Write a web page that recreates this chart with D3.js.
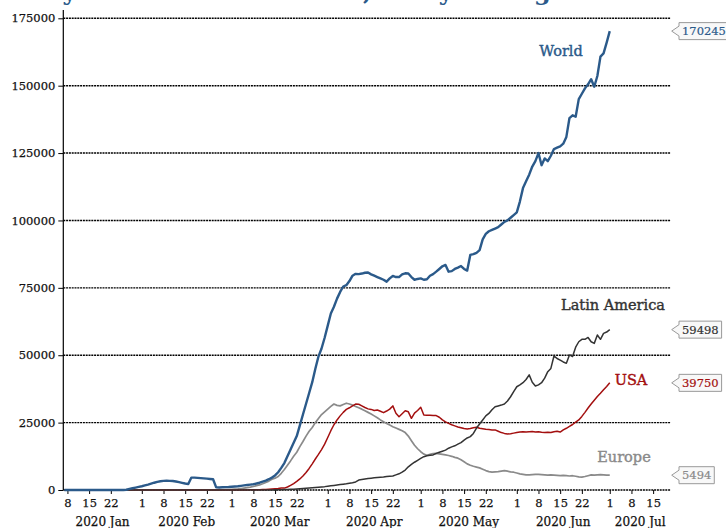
<!DOCTYPE html>
<html><head><meta charset="utf-8">
<script src="https://cdn.jsdelivr.net/npm/d3@7"></script>
<style>
body{margin:0;background:#fff;}
svg{display:block;font-family:"DejaVu Serif",serif;}
</style></head>
<body><svg id="c" width="726" height="528"></svg>
<script>
const startDate = "2020-01-07";
const seriesNames = ["World","Latin America","USA","Europe"];
const seriesColors = ["#2b5a8a","#333333","#a30f0f","#8a8a8a"];
const endLabels = ["170245","59498","39750","5494"];
const yTicks = [0,25000,50000,75000,100000,125000,150000,175000];
const monthLabels = ["2020 Jan","2020 Feb","2020 Mar","2020 Apr","2020 May","2020 Jun","2020 Jul"];
const titleText = "Daily new confirmed cases, 7-day average";

const worldValues = [
 0,0,0,0,0,0,0,0,0,0,0,0,0,0,0,0,0,0,0,0,100,400,650,900,1150,
 1400,1700,2000,2350,2700,3000,3250,3400,3450,3400,3350,3150,2900,2650,2400,2200,4600,4600,4500,4400,4300,4200,4100,4000,1000,950,1000,1050,1100,
 1200,1300,1400,1550,1700,1850,2000,2150,2400,2700,3100,3500,4000,4600,5400,6600,8200,10000,12500,15000,17500,20000,24000,28000,32000,36000,40000,45000,49500,52500,56500,
 61000,65500,68000,71000,73500,75500,76000,77500,79500,80200,80100,80300,80600,80700,80000,79500,79000,78500,78000,77300,78500,79400,79000,79000,80000,80400,80300,79000,78000,78300,
 78500,78000,78200,79500,80100,81000,82000,83000,83500,81000,81200,82000,82500,83100,82000,81400,87200,87500,88000,89000,93000,95000,96000,96500,97000,97500,98500,99500,100000,101000,102000,
 103000,107000,112000,114500,117000,120000,122000,125000,120500,123000,122000,124000,126500,127000,127500,128500,131000,138000,139000,138500,145000,147000,149000,150500,152400,149600,153600,160800,162000,166000,
 170245];

const latamValues = [
 0,0,0,0,0,0,0,0,0,0,0,0,0,0,0,0,0,0,0,0,0,0,0,0,0,
 0,0,0,0,0,0,0,0,0,0,0,0,0,0,0,0,0,0,0,0,0,0,0,0,0,0,0,0,0,
 0,0,0,0,0,0,0,0,0,0,0,0,0,0,50,80,120,160,200,260,320,400,480,560,650,750,850,950,1050,1150,1250,
 1400,1550,1700,1850,2000,2150,2300,2500,2700,3000,3700,3900,4100,4300,4400,4500,4600,4700,4800,5000,5100,5200,5600,6000,6600,7400,8600,9500,10300,11000,
 11700,12350,12700,12900,13000,13600,14000,14400,14800,15500,16000,16400,17000,17600,18500,19300,19800,21000,23000,24500,26000,27500,28400,29800,30900,31200,31500,31900,33000,34600,36500,
 38300,39000,39800,41000,42700,40000,38600,39000,39800,41500,43900,45100,49700,48800,48200,47500,47000,50100,49500,53000,55000,55900,55900,56600,55000,54400,57500,55900,58100,58600,
 59498];

const usaValues = [
 0,0,0,0,0,0,0,0,0,0,0,0,0,0,0,0,0,0,0,0,0,0,0,0,0,
 0,0,0,0,0,0,0,0,0,0,0,0,0,0,0,0,0,0,0,0,0,0,0,0,0,0,0,0,0,
 0,0,0,20,30,45,60,80,100,130,170,220,280,360,450,560,700,700,1100,1700,2400,3200,4100,5200,6500,8000,9700,11500,13200,15000,17000,
 19500,22000,24200,26000,27500,28800,29900,30500,31200,31900,31800,31200,30600,30100,29900,29500,29700,29200,28700,29300,30000,31200,28500,27200,28300,29400,29000,26600,28500,29500,
 30700,27800,27700,27700,27600,27600,27000,26000,25300,24700,24200,23800,23400,23100,22800,22600,22800,23100,23300,22900,22700,22500,22400,22300,22300,21800,21300,21000,20800,20900,21100,
 21300,21500,21600,21500,21600,21700,21500,21600,21400,21300,21400,21300,21600,21800,21500,22300,22900,23600,24300,25200,26000,27300,28800,30400,31900,33300,34700,35900,37200,38400,
 39750];

const europeValues = [
 0,0,0,0,0,0,0,0,0,0,0,0,0,0,0,0,0,0,0,0,0,0,0,0,0,
 0,0,0,0,0,0,0,0,0,0,0,0,0,0,0,0,0,0,0,0,5,20,30,40,50,70,100,140,190,
 250,330,430,560,700,850,1050,1300,1600,1900,2300,2800,3300,4000,4400,5000,6200,7600,9200,10800,12500,14000,16100,18000,20000,21800,23200,25000,26500,28000,29000,
 30000,31000,31900,31400,31200,31700,32200,31900,31500,31000,30500,30000,29400,28800,28200,27500,26800,26000,25300,24700,24100,23500,23000,22500,22000,21300,20000,18300,16600,15300,
 14200,13300,12900,13200,13500,13600,13400,13200,13000,12800,12500,12100,11800,11200,10500,9700,9200,8800,8500,8200,7700,7200,6800,6600,6700,6800,7000,7200,7000,6700,6600,
 6300,6000,5800,5600,5600,5700,5800,5800,5700,5600,5500,5600,5500,5400,5300,5400,5300,5200,5300,5100,4900,4800,5000,5300,5600,5500,5600,5700,5600,5500,
 5494];

const allValues = [worldValues, latamValues, usaValues, europeValues];
const labelPos = [[561,56],[613,310],[631,385],[624,462]]; // text centers for series names

const svg = d3.select("#c");
const parse = d3.utcParse("%Y-%m-%d");
const t0 = parse(startDate);
const dateAt = i => d3.utcDay.offset(t0, i);

const x = d3.scaleUtc()
  .domain([new Date(Date.UTC(2020,0,6,16)), new Date(Date.UTC(2020,6,20,16))])
  .range([63.3, 670.7]);
const y = d3.scaleLinear().domain([0,175000]).range([490, 18.3]);

// title (mostly cut off at top, as in the reference)
svg.append("text").attr("x", 566).attr("y", 0).attr("text-anchor","end")
  .attr("font-size", 24).attr("font-weight","bold").attr("fill","#2b5a8a").text(titleText);

// gridlines
svg.append("g").selectAll("line").data(yTicks).join("line")
  .attr("x1", x.range()[0]).attr("x2", x.range()[1])
  .attr("y1", d => y(d)).attr("y2", d => y(d))
  .attr("stroke","#000").attr("stroke-width",1.4).attr("stroke-dasharray","2,0.8");

// y axis
const yAxis = svg.append("g").attr("transform",`translate(${x.range()[0]},0)`)
  .call(d3.axisLeft(y).tickValues(yTicks).tickFormat(d3.format("d")).tickSize(5).tickPadding(3));
yAxis.select(".domain").remove();
yAxis.selectAll("text").attr("font-family","DejaVu Serif").attr("font-size",11.5).attr("fill","#111")
  .attr("stroke","#111").attr("stroke-width",0.25);
yAxis.selectAll("line").attr("stroke","#000");
svg.append("line").attr("x1",x.range()[0]).attr("x2",x.range()[0]).attr("y1",10).attr("y2",490)
  .attr("stroke","#000").attr("stroke-width",1.2);

// x axis
const [d0, d1] = x.domain();
const tickDates = d3.utcDay.range(d0, d1).filter(d => [1,8,15,22].includes(d.getUTCDate()));
const xAxis = svg.append("g").attr("transform","translate(0,490)")
  .call(d3.axisBottom(x).tickValues(tickDates).tickFormat(d3.utcFormat("%-d")).tickSize(4).tickPadding(5));
xAxis.select(".domain").remove();
xAxis.selectAll("text").attr("font-family","DejaVu Serif").attr("font-size",11.5).attr("fill","#111")
  .attr("stroke","#111").attr("stroke-width",0.25);
xAxis.selectAll("line").attr("stroke","#000");

// month labels centered on visible part of each month
const months = d3.utcMonth.range(d3.utcMonth.floor(d0), d1);
svg.append("g").selectAll("text").data(months).join("text")
  .attr("x", (m,i) => {
    const a = Math.max(+m, +d0), b = Math.min(+d3.utcMonth.offset(m,1), +d1);
    return x(new Date((a+b)/2));
  })
  .attr("y", 526).attr("text-anchor","middle").attr("font-size",12).attr("fill","#111")
  .attr("stroke","#111").attr("stroke-width",0.25)
  .text((m,i) => monthLabels[i]);

// lines
const line = d3.line().x((d,i) => x(dateAt(i))).y(d => y(d));
const widths = [2.4,1.5,1.5,1.7];
[3,2,1,0].forEach(k => {
  svg.append("path").datum(allValues[k]).attr("d", line)
    .attr("fill","none").attr("stroke",seriesColors[k]).attr("stroke-width",widths[k])
    .attr("stroke-linejoin","round");
});

// series name labels
seriesNames.forEach((n,k) => {
  svg.append("text").attr("x",labelPos[k][0]).attr("y",labelPos[k][1]).attr("text-anchor","middle")
    .attr("font-size",14.5).attr("fill",seriesColors[k])
    .attr("stroke",seriesColors[k]).attr("stroke-width",0.4).text(n);
});

// end value tags
allValues.forEach((vals,k) => {
  const v = vals[vals.length-1];
  const cy = y(v);
  const g = svg.append("g");
  const bx = 679, tip = 671.7, h = 17;
  const txt = g.append("text").attr("x", bx+3).attr("y", cy+4.2).attr("font-size",11.5)
    .attr("fill",seriesColors[k]).attr("stroke",seriesColors[k]).attr("stroke-width",0.2).text(endLabels[k]);
  const w = txt.node().getComputedTextLength() + 6;
  g.insert("path","text").attr("d",
    `M${tip},${cy} L${bx},${cy-5} L${bx},${cy-h/2} L${bx+w},${cy-h/2} L${bx+w},${cy+h/2} L${bx},${cy+h/2} L${bx},${cy+5} Z`)
    .attr("fill","#f8f8f8").attr("stroke","#999").attr("stroke-width",1);
});
</script></body></html>
